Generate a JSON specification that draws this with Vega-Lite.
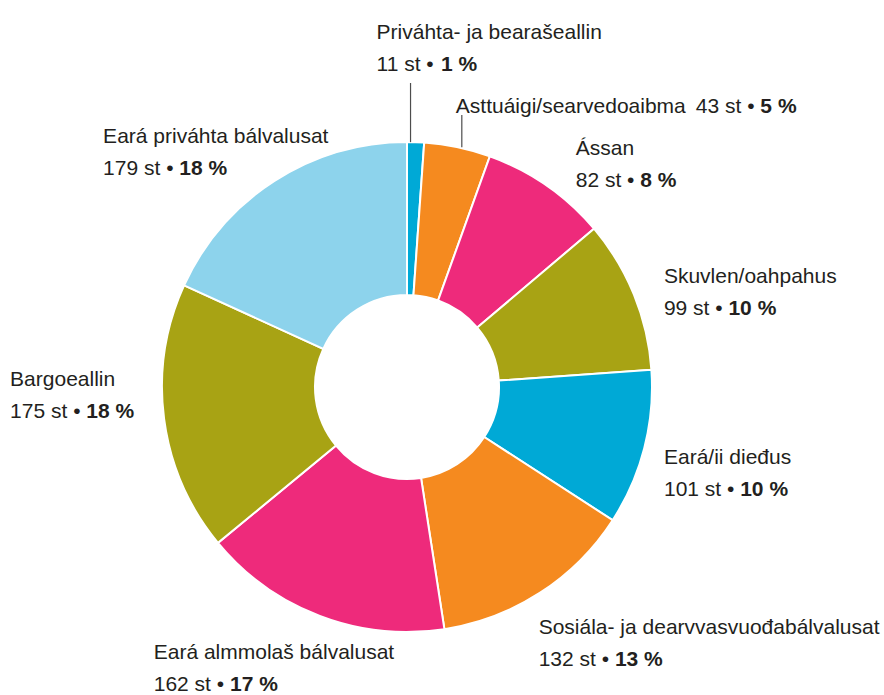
{
  "$schema": "https://vega.github.io/schema/vega-lite/v6.json",
  "width": 814,
  "height": 616,
  "autosize": {"type": "none"},
  "padding": {"left": 0, "top": 79, "right": 70, "bottom": 0},
  "background": "white",
  "config": {
    "view": {"stroke": null},
    "text": {"font": "Liberation Sans", "fontSize": 21, "color": "#231f20"}
  },
  "data": {
    "values": [
      {"i": 1, "name": "Priváhta- ja bearašeallin", "n": 11, "pct": 1},
      {"i": 2, "name": "Asttuáigi/searvedoaibma", "n": 43, "pct": 5},
      {"i": 3, "name": "Ássan", "n": 82, "pct": 8},
      {"i": 4, "name": "Skuvlen/oahpahus", "n": 99, "pct": 10},
      {"i": 5, "name": "Eará/ii dieđus", "n": 101, "pct": 10},
      {"i": 6, "name": "Sosiála- ja dearvvasvuođabálvalusat", "n": 132, "pct": 13},
      {"i": 7, "name": "Eará almmolaš bálvalusat", "n": 162, "pct": 17},
      {"i": 8, "name": "Bargoeallin", "n": 175, "pct": 18},
      {"i": 9, "name": "Eará priváhta bálvalusat", "n": 179, "pct": 18}
    ]
  },
  "layer": [
    {
      "mark": {"type": "arc", "outerRadius": 245, "innerRadius": 92, "stroke": "white", "strokeWidth": 2},
      "encoding": {
        "theta": {"field": "n", "type": "quantitative", "stack": true},
        "order": {"field": "i", "type": "quantitative"},
        "color": {
          "field": "name",
          "type": "nominal",
          "legend": null,
          "scale": {
            "domain": ["Priváhta- ja bearašeallin", "Asttuáigi/searvedoaibma", "Ássan", "Skuvlen/oahpahus", "Eará/ii dieđus", "Sosiála- ja dearvvasvuođabálvalusat", "Eará almmolaš bálvalusat", "Bargoeallin", "Eará priváhta bálvalusat"],
            "range": ["#00a9d6", "#f58a1f", "#ee2a7b", "#a8a314", "#00a9d6", "#f58a1f", "#ee2a7b", "#a8a314", "#8dd3ec"]
          }
        }
      }
    },
    {
      "transform": [
        {"joinaggregate": [{"op": "sum", "field": "n", "as": "tot"}]},
        {"stack": "n", "groupby": [], "sort": [{"field": "i", "order": "ascending"}], "as": ["s0", "s1"]},
        {"calculate": "PI*(datum.s0+datum.s1)/datum.tot", "as": "a"},
        {"calculate": "sin(datum.a)", "as": "sn"},
        {"calculate": "cos(datum.a)", "as": "cs"},
        {"calculate": "datum.n + ' st •'", "as": "numtxt"},
        {"calculate": "datum.pct + ' %'", "as": "pcttxt"},
        {"calculate": "(length(toString(datum.n))*556+1962)*0.021", "as": "boff"}
      ],
      "layer": [
        {
          "transform": [
            {"filter": "datum.n/datum.tot >= 0.06"},
            {"calculate": "max(length(datum.name), length(datum.numtxt)+1+length(datum.pcttxt))*9.8", "as": "w"},
            {"calculate": "270*datum.sn - datum.w*sqrt(max(0,-datum.sn)) + 18*datum.cs", "as": "lx"},
            {"calculate": "8 - 288*datum.cs + 45*pow(min(0,datum.sn),3)", "as": "lc"},
            {"calculate": "datum.lc - 9", "as": "y1"},
            {"calculate": "datum.lc + 23", "as": "y2"},
            {"calculate": "datum.lx + datum.boff", "as": "bx"}
          ],
          "layer": [
            {
              "mark": {"type": "text", "align": "left"},
              "encoding": {
                "x": {"field": "lx", "type": "quantitative", "scale": {"domain": [-407, 407], "nice": false, "zero": false}, "axis": null},
                "y": {"field": "y1", "type": "quantitative", "scale": {"domain": [-308, 308], "reverse": true, "nice": false, "zero": false}, "axis": null},
                "text": {"field": "name"}
              }
            },
            {
              "mark": {"type": "text", "align": "left"},
              "encoding": {
                "x": {"field": "lx", "type": "quantitative"},
                "y": {"field": "y2", "type": "quantitative"},
                "text": {"field": "numtxt"}
              }
            },
            {
              "mark": {"type": "text", "align": "left", "fontWeight": "bold"},
              "encoding": {
                "x": {"field": "bx", "type": "quantitative"},
                "y": {"field": "y2", "type": "quantitative"},
                "text": {"field": "pcttxt"}
              }
            }
          ]
        },
        {
          "transform": [
            {"filter": "datum.n/datum.tot < 0.06"},
            {"window": [{"op": "row_number", "as": "k"}], "sort": [{"field": "i"}]},
            {"joinaggregate": [{"op": "count", "as": "ns"}]},
            {"calculate": "300*datum.sn - 7", "as": "lnx"},
            {"calculate": "-245*datum.cs", "as": "lnb"},
            {"calculate": "-272 - 32*(datum.ns - datum.k)", "as": "lnt"}
          ],
          "layer": [
            {
              "mark": {"type": "rule", "color": "#4d4d4d", "strokeWidth": 1.2},
              "encoding": {
                "x": {"field": "lnx", "type": "quantitative"},
                "y": {"field": "lnb", "type": "quantitative"},
                "y2": {"field": "lnt"}
              }
            },
            {
              "transform": [
                {"filter": "datum.k < datum.ns"},
                {"calculate": "datum.lnx - 34", "as": "tx"},
                {"calculate": "datum.tx + datum.boff", "as": "bx"},
                {"calculate": "datum.lnt - 50", "as": "ya"},
                {"calculate": "datum.lnt - 18", "as": "yb"}
              ],
              "layer": [
                {
                  "mark": {"type": "text", "align": "left"},
                  "encoding": {
                    "x": {"field": "tx", "type": "quantitative"},
                    "y": {"field": "ya", "type": "quantitative"},
                    "text": {"field": "name"}
                  }
                },
                {
                  "mark": {"type": "text", "align": "left"},
                  "encoding": {
                    "x": {"field": "tx", "type": "quantitative"},
                    "y": {"field": "yb", "type": "quantitative"},
                    "text": {"field": "numtxt"}
                  }
                },
                {
                  "mark": {"type": "text", "align": "left", "fontWeight": "bold"},
                  "encoding": {
                    "x": {"field": "bx", "type": "quantitative"},
                    "y": {"field": "yb", "type": "quantitative"},
                    "text": {"field": "pcttxt"}
                  }
                }
              ]
            },
            {
              "transform": [
                {"filter": "datum.k == datum.ns"},
                {"calculate": "datum.lnx - 6", "as": "tx"},
                {"calculate": "datum.tx + 10*length(datum.name) + 10", "as": "nx"},
                {"calculate": "datum.nx + datum.boff", "as": "bx"},
                {"calculate": "datum.lnt - 8", "as": "ya"}
              ],
              "layer": [
                {
                  "mark": {"type": "text", "align": "left"},
                  "encoding": {
                    "x": {"field": "tx", "type": "quantitative"},
                    "y": {"field": "ya", "type": "quantitative"},
                    "text": {"field": "name"}
                  }
                },
                {
                  "mark": {"type": "text", "align": "left"},
                  "encoding": {
                    "x": {"field": "nx", "type": "quantitative"},
                    "y": {"field": "ya", "type": "quantitative"},
                    "text": {"field": "numtxt"}
                  }
                },
                {
                  "mark": {"type": "text", "align": "left", "fontWeight": "bold"},
                  "encoding": {
                    "x": {"field": "bx", "type": "quantitative"},
                    "y": {"field": "ya", "type": "quantitative"},
                    "text": {"field": "pcttxt"}
                  }
                }
              ]
            }
          ]
        }
      ]
    }
  ]
}
